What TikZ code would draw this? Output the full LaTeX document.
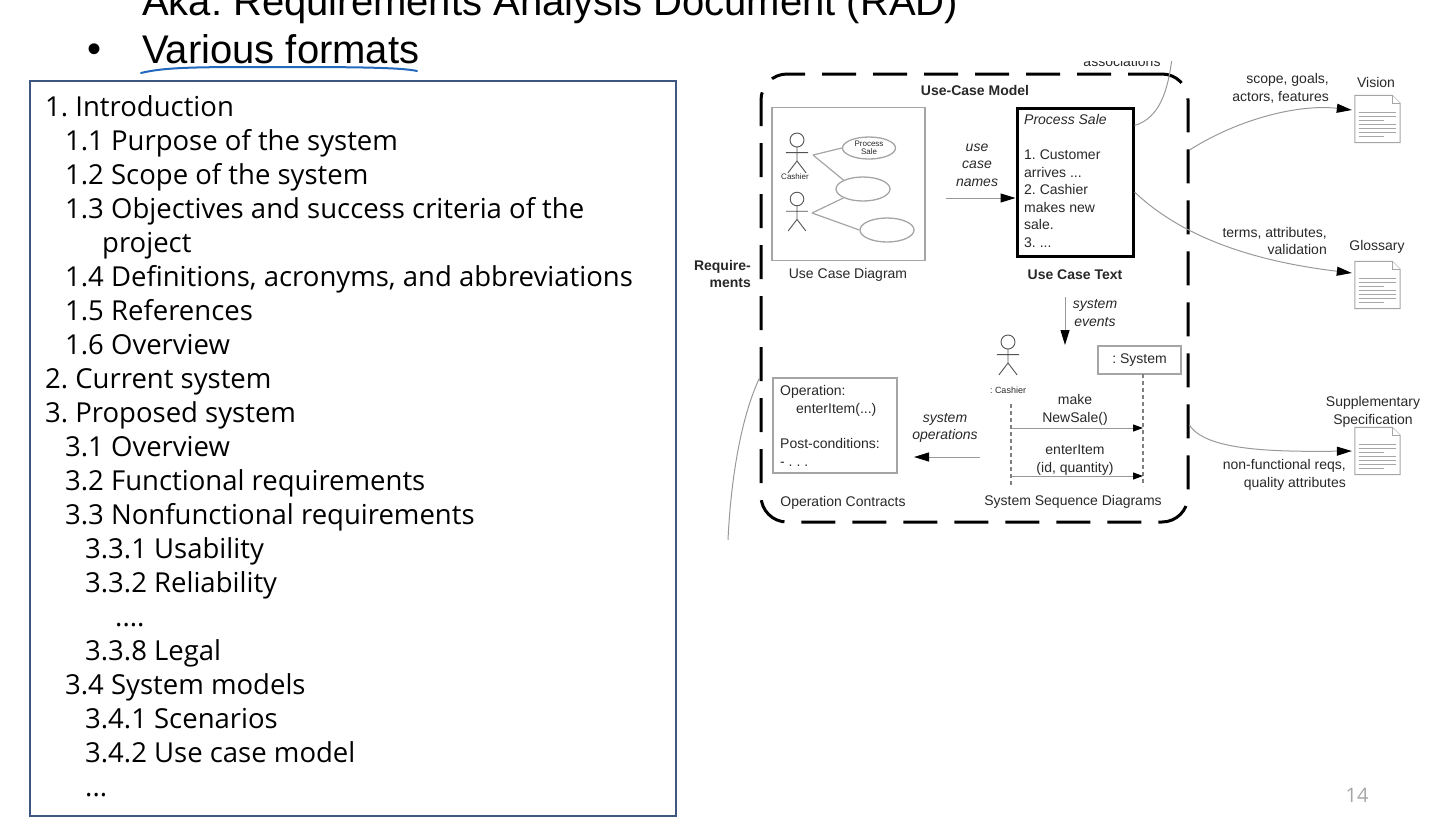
\documentclass[tikz,border=0pt]{standalone}
\usepackage{fontspec}
\setmainfont{Liberation Sans}
\newfontfamily\listfont{Open Sans}
\usetikzlibrary{arrows.meta,shapes.geometric}
\frenchspacing

\definecolor{boxblue}{RGB}{62,86,128}
\definecolor{penblue}{RGB}{35,105,190}
\definecolor{ink}{RGB}{40,40,40}
\definecolor{frame}{RGB}{165,165,165}

\tikzset{
  lbl/.style={font=\fontsize{14}{17.5}\selectfont, text=ink, inner sep=0pt, align=center},
  blbl/.style={lbl, font=\fontsize{14}{17.5}\selectfont\bfseries},
  ilbl/.style={lbl, font=\fontsize{14}{17.5}\selectfont\itshape},
  tinylbl/.style={lbl, font=\fontsize{8}{8.5}\selectfont},
  gbox/.style={draw=frame, line width=1.6pt, inner sep=0pt},
  link/.style={draw=gray!80, line width=1pt},
  arr/.style={link, -{Triangle[length=15pt,width=9pt,color=black]}},
  msg/.style={link, -{Triangle[length=10pt,width=7pt,color=black]}},
  usecase/.style={ellipse, draw=frame, line width=1.3pt, inner sep=0pt},
  lifeline/.style={draw=gray, dash pattern=on 4pt off 3pt, line width=1.2pt},
  docline/.style={draw=frame, line width=1pt, fill=white},
  docnode/.style={minimum width=45pt, minimum height=47pt, inner sep=0pt},
  tocline/.style={anchor=base west, inner sep=0pt, font=\listfont\fontsize{27.5}{34}\selectfont},
}

% actor: x, y of head centre, head radius
\newcommand\stickman[3]{%
  \draw[ink!80, line width=0.9pt] (#1,#2) circle (#3)
    (#1,#2+#3) -- (#1,#2+3*#3)
    (#1-1.6*#3,#2+1.8*#3) -- (#1+1.6*#3,#2+1.8*#3)
    (#1-1.3*#3,#2+4.7*#3) -- (#1,#2+3*#3) -- (#1+1.3*#3,#2+4.7*#3);}

\begin{document}
\begin{tikzpicture}[x=1pt,y=-1pt]
  \useasboundingbox (0,0) rectangle (1440,839);
  \clip (0,0) rectangle (1440,839);

  % slide text
  \node[anchor=base west, inner sep=0pt, font=\fontsize{40}{48}\selectfont] (aka) at (142,15) {Aka: Requirements Analysis Document (RAD)};
  \node[anchor=base west, inner sep=0pt, font=\fontsize{40}{48}\selectfont] (various) at (142,63) {Various formats};
  \node[anchor=base, inner sep=0pt, font=\fontsize{40}{48}\selectfont] (bullet) at (95,62) {•};
  \draw[penblue, line width=2pt, line cap=round] (141,73) .. controls (165,67) and (200,67) .. (270,67)
    .. controls (340,67) and (400,67) .. (417,71);

  % table of contents
  \node[draw=boxblue, line width=1.2pt, minimum width=646pt, minimum height=735pt, inner sep=0pt] (tocbox) at (353,448.5) {};
  \foreach \ind/\txt [count=\k from 0] in {0/{1. Introduction}, 20/{1.1 Purpose of the system},
      20/{1.2 Scope of the system}, 20/{1.3 Objectives and success criteria of the}, 57/{project},
      20/{1.4 Definitions, acronyms, and abbreviations}, 20/{1.5 References}, 20/{1.6 Overview},
      0/{2. Current system}, 0/{3. Proposed system}, 20/{3.1 Overview},
      20/{3.2 Functional requirements}, 20/{3.3 Nonfunctional requirements}, 40/{3.3.1 Usability},
      40/{3.3.2 Reliability}, 70/{....}, 40/{3.3.8 Legal}, 20/{3.4 System models},
      40/{3.4.1 Scenarios}, 40/{3.4.2 Use case model}, 40/{...}}
    \node[tocline] (toc\k) at (45+\ind,116+34*\k) {\txt};

  \node[font=\listfont\fontsize{20}{24}\selectfont, text=gray!70, inner sep=0pt] (pnum) at (1357,795) {14};

  % requirements figure
  \begin{scope}
    \clip (690,61) rectangle (1440,839);
    \node[lbl] (assoc) at (1122,61.5) {associations};
    \node[draw, line width=3pt, dash pattern=on 34pt off 17pt, rounded corners=26pt,
      minimum width=427pt, minimum height=448pt, inner sep=0pt] (ucm) at (974.5,298) {};
    \node[blbl] (ucmtitle) at (975,90) {Use-Case Model};
    \node[blbl, align=right, anchor=east] (reqs) at (751,274) {Require-\\ments};

    % use case diagram
    \node[gbox, minimum width=153pt, minimum height=153pt] (ucd) at (848.5,184) {};
    \node[usecase, minimum width=53pt, minimum height=22pt, tinylbl] (uc1) at (869,148) {Process\\Sale};
    \node[usecase, minimum width=54pt, minimum height=24pt] (uc2) at (863,189) {};
    \node[usecase, minimum width=54pt, minimum height=24pt] (uc3) at (887,230) {};
    \stickman{797}{140}{7}
    \stickman{797}{199}{6.8}
    \node[tinylbl] (cashier1) at (795,177) {Cashier};
    \coordinate (a1) at (813,155);
    \coordinate (a2) at (812,213);
    \draw[frame, line width=1.2pt] (a1) -- (uc1.west) (a1) -- (uc2.north west)
      (a2) -- (uc2.south west) (a2) -- (uc3.west);
    \node[lbl] (ucdname) at (848,275) {Use Case Diagram};

    % use case text
    \node[draw=black, line width=3pt, minimum width=116pt, minimum height=148pt, inner sep=0pt] (uctext) at (1075,182) {};
    \node[lbl, align=left, anchor=north west] (uctxt) at (1024,114.5)
      {\textit{Process Sale}\\[17.5pt]1. Customer\\arrives ...\\2. Cashier\\makes new\\sale.\\3. ...};
    \node[blbl] (uctname) at (1075,275) {Use Case Text};
    \node[ilbl] (ucnames) at (977,165) {use\\case\\names};
    \coordinate (ucn) at (946,198);
    \draw[arr] (ucn) -- (ucn -| uctext.west);

    % system sequence diagram
    \node[ilbl] (sysev) at (1095,313) {system\\events};
    \coordinate (se) at (1065,297);
    \draw[arr] (se) -- ++(0,48);
    \stickman{1008}{342}{7}
    \node[lbl, font=\fontsize{9}{10}\selectfont] (cashier2) at (1008,390) {: Cashier};
    \node[gbox, lbl, minimum width=83pt, minimum height=28pt] (sysbox) at (1139.5,360) {: System};
    \coordinate (cl) at (1011,404);
    \coordinate (sl) at (1143,374);
    \draw[lifeline] (cl) -- ++(0,82);
    \draw[lifeline] (sl) -- ++(0,112);
    \node[lbl] (msg1) at (1075,410) {make\\NewSale()};
    \node[lbl] (msg2) at (1075,460) {enterItem\\(id, quantity)};
    \coordinate (m1) at (1012,428);
    \coordinate (m2) at (1012,476);
    \draw[msg] (m1) -- (m1 -| sl);
    \draw[msg] (m2) -- (m2 -| sl);
    \node[lbl] (ssdname) at (1073,502) {System Sequence Diagrams};

    % operation contracts
    \node[gbox, minimum width=124pt, minimum height=95pt] (opc) at (835,425.5) {};
    \node[lbl, align=left, anchor=north west] (optxt) at (780,385.5)
      {Operation:\\\hspace*{16pt}enterItem(...)\\[18pt]Post-conditions:\\- . . .};
    \node[lbl] (opcname) at (843,503) {Operation Contracts};
    \node[ilbl] (sysops) at (945,428) {system\\operations};
    \coordinate (so) at (980,457);
    \draw[arr] (so) -- ++(-66,0);

    % links leaving the figure
    \draw[link] ([yshift=-19pt]uctext.north east) .. controls (1160,118) and (1168,90) .. (1172,58);
    \draw[link] ([yshift=-80pt]ucm.west) .. controls (742,415) and (731,475) .. (728,540);

    % documents
    \node[docnode] (vis) at (1377.5,119) {};
    \node[docnode] (glo) at (1377.5,285) {};
    \node[docnode] (sup) at (1377.5,451) {};
    \foreach \d in {vis,glo,sup}{
      \draw[docline] (\d.north west) -- ([xshift=-8pt]\d.north east) -- ([yshift=-8pt]\d.north east)
        -- (\d.south east) -- (\d.south west) -- cycle;
      \draw[docline] ([xshift=-8pt]\d.north east) -- ([xshift=-8pt,yshift=-8pt]\d.north east) -- ([yshift=-8pt]\d.north east);
      \foreach \r/\w in {17/37,21/37,25/25,29/37,33/37,37/37,41/25}
        \draw[gray!70, line width=0.8pt] ([xshift=4pt,yshift=-\r pt]\d.north west) -- ++(\w,0);
    }
    \node[lbl] (visname) at (1376,82) {Vision};
    \node[lbl] (gloname) at (1377,247) {Glossary};
    \node[lbl] (supname) at (1373,412) {Supplementary\\Specification};
    \node[lbl, align=right, anchor=east] (vislbl) at (1329,88.5) {scope, goals,\\actors, features};
    \node[lbl, align=right, anchor=east] (glolbl) at (1327,241) {terms, attributes,\\validation};
    \node[lbl, align=right, anchor=east] (suplbl) at (1346,475) {non-functional reqs,\\quality attributes};
    \draw[arr] ([yshift=148pt]ucm.east) .. controls (1240,118) and (1300,104) .. ([xshift=-3pt,yshift=9pt]vis.west);
    \draw[arr] ([yshift=-10pt]uctext.east) .. controls (1185,240) and (1260,262) .. ([xshift=-3pt,yshift=12pt]glo.west);
    \draw[arr] ([yshift=-127pt]ucm.east) .. controls (1205,450) and (1270,452) .. ([xshift=-3pt]sup.west);
  \end{scope}
\end{tikzpicture}
\end{document}
